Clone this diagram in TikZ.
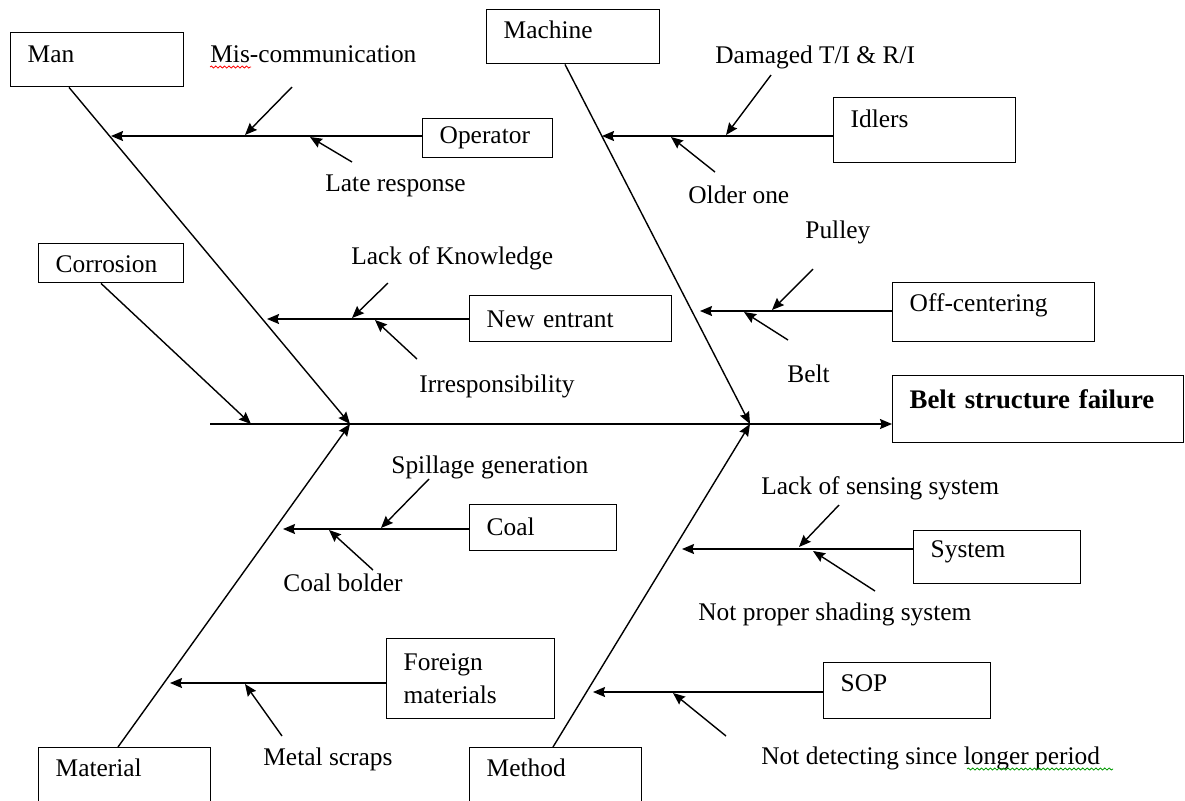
\documentclass[tikz,border=0pt]{standalone}
\usepackage{fontspec}
\setmainfont{Liberation Serif}
\usetikzlibrary{arrows.meta,positioning,calc,decorations.pathmorphing}

\tikzset{
  cbox/.style n args={3}{draw, line width=.7pt, anchor=north west, align=left,
    inner xsep=8.5pt, inner ysep=0pt, text height=9pt,
    text width=#1, minimum height=#2, text depth=#3},
  lbl/.style={anchor=base west, inner sep=0pt},
  bone/.style={line width=.7pt, -{Stealth[length=6pt,width=5pt,inset=.8pt]}},
  wavy/.style={line width=.4pt, decorate, decoration={snake,amplitude=.5pt,segment length=2.2pt}}
}

\begin{document}
\begin{tikzpicture}[x=.5pt,y=-.5pt,font=\fontsize{12.7}{16.5}\selectfont]
  \clip (0,0) rectangle (1185,800);

  % categories
  \node[cbox={69.5pt}{27pt}{6pt}] (man) at (10,32) {Man};
  \node[cbox={69.5pt}{27pt}{7pt}] (machine) at (486,9) {Machine};
  \node[cbox={55.5pt}{19.5pt}{0pt}] (corrosion) at (38,243) {Corrosion};
  \node[cbox={69pt}{31.5pt}{11.5pt}] (material) at (38,747) {Material};
  \node[cbox={69pt}{31.5pt}{11.5pt}] (method) at (469,747) {Method};
  \node[cbox={128.5pt}{33.5pt}{9.5pt},font=\fontsize{13.4}{16.5}\selectfont\bfseries] (failure) at (892,375) {Belt structure failure};

  % causes
  \node[cbox={48pt}{19.5pt}{3.5pt}] (operator) at (422,118) {Operator};
  \node[cbox={74pt}{32.5pt}{11.5pt}] (idlers) at (833,97) {Idlers};
  \node[cbox={84pt}{23pt}{0pt}] (entrant) at (469,295) {New entrant};
  \node[cbox={84pt}{29.5pt}{9.5pt}] (offcenter) at (892,282) {Off-centering};
  \node[cbox={56.5pt}{23pt}{1pt}] (coal) at (469,504) {Coal};
  \node[cbox={67pt}{40pt}{17pt}] (foreign) at (386,638) {Foreign\\materials};
  \node[cbox={66.5pt}{26.5pt}{8.5pt}] (system) at (913,530) {System};
  \node[cbox={66.5pt}{28pt}{8pt}] (sop) at (823,662) {SOP};

  % sub causes
  \node[lbl] (miscomm) at (210,62) {Mis-communication};
  \node[lbl] (late) at (325,191) {Late response};
  \node[lbl] (damaged) at (715,63) {Damaged T/I \& R/I};
  \node[lbl] (older) at (688,203) {Older one};
  \node[lbl] (knowledge) at (351,264) {Lack of Knowledge};
  \node[lbl] (irresp) at (419,392) {Irresponsibility};
  \node[lbl] (pulley) at (805,238) {Pulley};
  \node[lbl] (belt) at (787,382) {Belt};
  \node[lbl] (spillage) at (391,473) {Spillage generation};
  \node[lbl] (bolder) at (283,591) {Coal bolder};
  \node[lbl] (scraps) at (263,765) {Metal scraps};
  \node[lbl] (sensing) at (761,494) {Lack of sensing system};
  \node[lbl] (shading) at (698,620) {Not proper shading system};
  \node[lbl] (notdetect) at (761,764) {Not detecting since longer period};

  \draw[wavy,red] ([yshift=-2.5pt]miscomm.base west) -- ++(41,0);
  \draw[wavy,green!60!black] ([shift={(103pt,-2.5pt)}]notdetect.base west) -- ++(146,0);

  % spine and bones
  \coordinate (tail) at (210,424);
  \coordinate (jl) at (350,424);
  \coordinate (jr) at (750,424);
  \coordinate (cj) at (251,424);
  \draw[bone] (tail) -- (tail -| failure.west);
  \draw[bone] ($(man.south west)+(59,0)$) -- (jl);
  \draw[bone] ($(machine.south west)+(79,0)$) -- (jr);
  \draw[bone] ($(material.north west)+(80,0)$) -- (jl);
  \draw[bone] ($(method.north west)+(84,0)$) -- (jr);
  \draw[bone] ($(corrosion.south west)+(63,0)$) -- (cj);

  \foreach \n/\x/\y in {op/111/136,idl/602/136,ne/267/319,oc/700/311,
                       co/283/529,fm/170/683,sy/682/549,so/593/692}
    \coordinate (\n) at (\x,\y);
  \foreach \b/\t in {operator/op,idlers/idl,entrant/ne,offcenter/oc,
                     coal/co,foreign/fm,system/sy,sop/so}
    \draw[bone] (\b.west |- \t) -- (\t);

  \foreach \n/\sx/\sy/\tx/\ty in {mis/292/87/245/135,lat/352/162/310/137,
      dam/771/75/726/135,old/715/172/671/137,lok/388/283/352/318,
      irr/417/359/375/320,pul/813/269/772/310,blt/788/340/744/312,
      spl/429/479/381/528,cbd/373/570/329/530,msc/282/736/245/684,
      lss/839/505/799/547,nps/875/591/813/551,ndt/726/736/673/693}{
    \coordinate (\n-s) at (\sx,\sy);
    \coordinate (\n-t) at (\tx,\ty);
    \draw[bone] (\n-s) -- (\n-t);
  }
\end{tikzpicture}
\end{document}
